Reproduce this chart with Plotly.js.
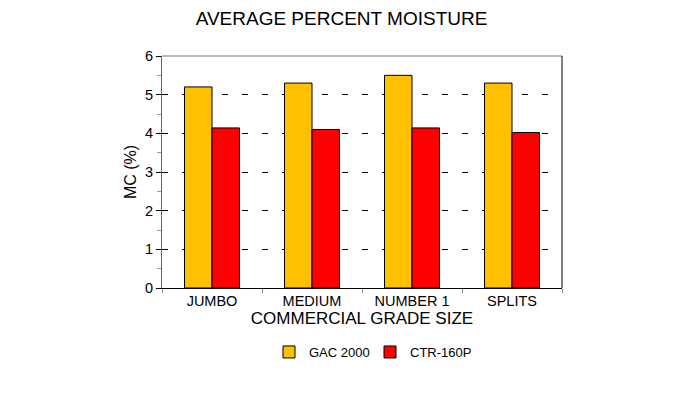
<!DOCTYPE html>
<html><head><meta charset="utf-8">
<script src="https://cdn.plot.ly/plotly-3.0.1.min.js"></script>
<style>html,body{margin:0;padding:0;background:#fff}</style>
</head><body><div id="chart" style="width:683px;height:400px"></div>
<script>
const categories = ["JUMBO", "MEDIUM", "NUMBER 1", "SPLITS"];
const gac2000 = [5.2, 5.3, 5.5, 5.3];
const ctr160p = [4.14, 4.1, 4.14, 4.02];
const seriesNames = ["GAC 2000", "CTR-160P"];
const yTicks = [0, 1, 2, 3, 4, 5, 6];

const font = "Liberation Sans, Arial, sans-serif";
const traces = [
  {type: "bar", name: seriesNames[0], x: categories, y: gac2000,
   marker: {color: "#FFC000", line: {color: "#000", width: 1}}},
  {type: "bar", name: seriesNames[1], x: categories, y: ctr160p,
   marker: {color: "#FF0000", line: {color: "#000", width: 1}}}
];
const layout = {
  width: 683, height: 400,
  margin: {l: 162, r: 121, t: 56, b: 112},
  paper_bgcolor: "#fff", plot_bgcolor: "#fff",
  font: {family: font, color: "#000", size: 14},
  title: {text: "AVERAGE PERCENT MOISTURE", x: 0.5, xanchor: "center", y: 0.955, yanchor: "middle",
          font: {family: font, size: 19, color: "#000"}},
  barmode: "group", bargap: 0.45, bargroupgap: 0,
  xaxis: {
    type: "category", showline: true, linecolor: "#000", linewidth: 1,
    ticks: "outside", tickson: "boundaries", ticklen: 4, tickcolor: "#888",
    showgrid: false, tickfont: {size: 14.5},
    title: {text: "COMMERCIAL GRADE SIZE", standoff: 0, font: {size: 17}}
  },
  yaxis: {
    range: [0, 6], tickvals: yTicks, showline: true, linecolor: "#666", linewidth: 1,
    ticks: "outside", ticklen: 5, tickcolor: "#000",
    minor: {dtick: 0.5, ticks: "outside", ticklen: 4, tickcolor: "#999", showgrid: false},
    showgrid: true, gridcolor: "#000", gridwidth: 1, griddash: "6px,14px",
    zeroline: false, tickfont: {size: 14.5},
    title: {text: "MC (%)", standoff: 4, font: {size: 16}}
  },
  shapes: [
    {type: "line", xref: "paper", yref: "paper", x0: 0, x1: 1, y0: 1, y1: 1, line: {color: "#777", width: 1}},
    {type: "line", xref: "paper", yref: "paper", x0: 1, x1: 1, y0: 0, y1: 1, line: {color: "#000", width: 1}}
  ],
  showlegend: true,
  legend: {orientation: "h", x: 0.52, xanchor: "center", y: -0.276, yanchor: "middle",
           font: {size: 13}, itemwidth: 30, entrywidth: 56, entrywidthmode: "pixels", traceorder: "normal"}
};
Plotly.newPlot("chart", traces, layout, {displayModeBar: false, staticPlot: true});
</script></body></html>
